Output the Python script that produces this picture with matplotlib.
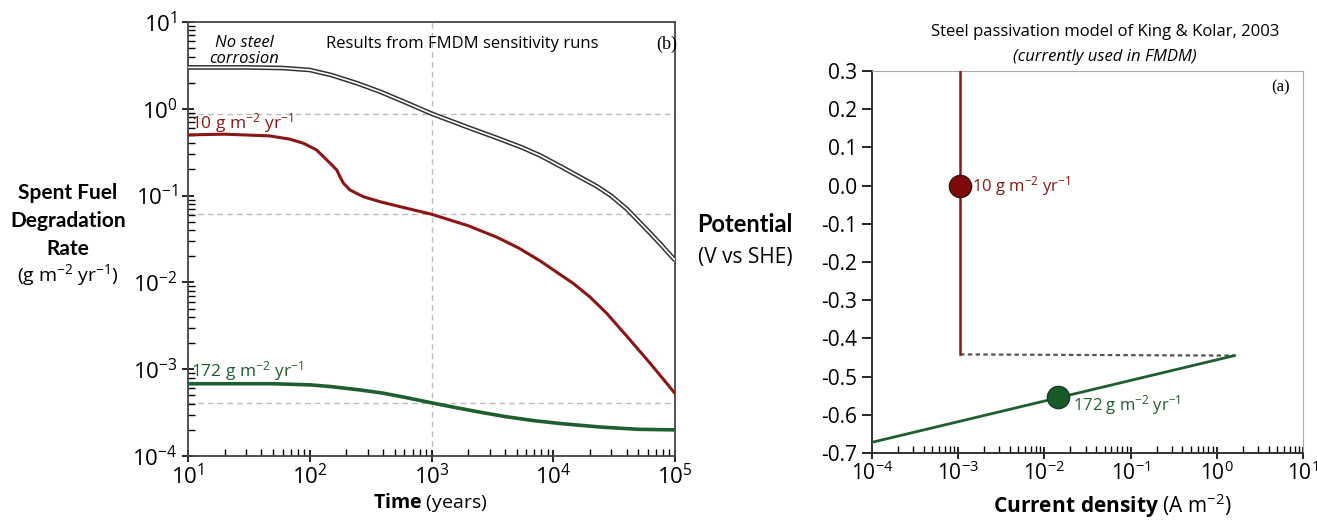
import numpy as np
import matplotlib
matplotlib.use('Agg')
import matplotlib.pyplot as plt

plt.rcParams['font.family'] = ['Open Sans', 'DejaVu Sans']
plt.rcParams['mathtext.fontset'] = 'custom'
plt.rcParams['mathtext.rm'] = 'Open Sans'
plt.rcParams['mathtext.it'] = 'Open Sans:italic'
plt.rcParams['mathtext.bf'] = 'Open Sans:bold'
plt.rcParams['mathtext.default'] = 'regular'
plt.rcParams['axes.unicode_minus'] = False

RED = '#8b1616'
GREEN = '#1e5e30'
GRID = '#bdbdbd'

# (b) degradation rate vs time, g m-2 yr-1
t_nosteel = [10, 30, 60, 100, 150, 250, 380, 600, 1000, 2000, 3470, 5500,
             7800, 12000, 23000, 30000, 40200, 62500, 80000, 100000]
r_nosteel = [3.0, 3.0, 2.95, 2.8, 2.45, 1.95, 1.57, 1.2, 0.88, 0.61, 0.46,
             0.36, 0.29, 0.21, 0.127, 0.099, 0.070, 0.037, 0.0255, 0.018]

t_10g = [10, 20, 47, 69, 89, 114, 147, 167, 177, 189, 214, 276, 378, 552,
         1000, 2000, 3470, 5200, 7800, 14650, 20000, 27500, 40200, 62500,
         80000, 100000]
r_10g = [0.50, 0.51, 0.487, 0.446, 0.40, 0.335, 0.236, 0.197, 0.165, 0.139,
         0.116, 0.097, 0.085, 0.0745, 0.061, 0.045, 0.033, 0.0249, 0.0177,
         0.0097, 0.0068, 0.0044, 0.0024, 0.00117, 7.7e-4, 5.25e-4]

t_172g = [10, 50, 100, 150, 250, 400, 600, 1000, 1600, 2500, 4000, 7000,
          12000, 25000, 50000, 100000]
r_172g = [6.8e-4, 6.8e-4, 6.6e-4, 6.3e-4, 5.8e-4, 5.3e-4, 4.75e-4, 4.1e-4,
          3.6e-4, 3.2e-4, 2.85e-4, 2.55e-4, 2.35e-4, 2.15e-4, 2.03e-4, 2.0e-4]

t_ref = 1000
rate_ref = [0.88, 0.061, 4.1e-4]

# (a) passivation model, potential (V vs SHE) vs current density (A m-2)
i_passive = [1.05e-3, 1.05e-3]
e_passive = [0.3, -0.442]
i_link = [1.05e-3, 1.6]
e_link = [-0.442, -0.445]
i_active = [1e-4, 1.6]
e_active = [-0.672, -0.445]
pt_10g = (1.05e-3, 0.0)
pt_172g = (0.0145, -0.553)

fig = plt.figure(figsize=(13.17, 5.22), dpi=100)
W, H = 1317.0, 522.0

ax1 = fig.add_axes([188 / W, 1 - 456 / H, 487 / W, 434 / H])
ax1.set_xscale('log')
ax1.set_yscale('log')
ax1.set_xlim(10, 1e5)
ax1.set_ylim(1e-4, 10)

for r in rate_ref:
    ax1.axhline(r, color=GRID, lw=1, dashes=(4, 3), zorder=1)
ax1.axvline(t_ref, color=GRID, lw=1, dashes=(4, 3), zorder=1)

ax1.plot(t_nosteel, r_nosteel, color='#333333', lw=3.4, solid_capstyle='butt',
         solid_joinstyle='round', zorder=3)
ax1.plot(t_nosteel, r_nosteel, color='white', lw=1.2, solid_capstyle='butt',
         solid_joinstyle='round', zorder=4)
ax1.plot(t_10g, r_10g, color=RED, lw=2.2, solid_joinstyle='round', zorder=3)
ax1.plot(t_172g, r_172g, color=GREEN, lw=2.6, solid_joinstyle='round', zorder=3)

ax1.text(29, 4.6, 'No steel\ncorrosion', style='italic', fontsize=12,
         ha='center', va='center', linespacing=1.0)
ax1.text(1780, 5.6, 'Results from FMDM sensitivity runs', fontsize=12,
         ha='center', va='center')
ax1.text(85000, 5.6, '(b)', family='Liberation Serif', fontsize=13,
         ha='center', va='center')
ax1.text(10.6, 0.68, '10 g m$^{-2}$ yr$^{-1}$', color=RED, fontsize=12.5,
         ha='left', va='center')
ax1.text(10.6, 9.4e-4, '172 g m$^{-2}$ yr$^{-1}$', color=GREEN, fontsize=12.5,
         ha='left', va='center')

for s in ['top', 'right', 'left', 'bottom']:
    ax1.spines[s].set_color('#444444')
    ax1.spines[s].set_linewidth(1.3)
ax1.tick_params(which='major', direction='inout', length=8, width=1.2,
                labelsize=16, top=False, right=False)
ax1.tick_params(which='minor', direction='in', length=5, width=1.0,
                top=False, right=False)
ax1.tick_params(axis='x', pad=2)

ax2 = fig.add_axes([872 / W, 1 - 453 / H, 431 / W, 382 / H])
ax2.set_xscale('log')
ax2.set_xlim(1e-4, 10)
ax2.set_ylim(-0.7, 0.3)
ax2.set_yticks(np.arange(-0.7, 0.31, 0.1))
ax2.yaxis.set_major_formatter(
    matplotlib.ticker.FuncFormatter(lambda v, p: f'{round(v, 1) + 0:.1f}'))

ax2.plot(i_link, e_link, color='#555555', lw=1.6, dashes=(2, 1.5), zorder=2)
ax2.plot(i_passive, e_passive, color=RED, lw=1.8, zorder=3)
ax2.plot(i_active, e_active, color=GREEN, lw=2.0, zorder=3)
ax2.plot(*pt_10g, 'o', ms=16, mfc='#7e0a0a', mec='#3a1010', mew=1.0, zorder=5)
ax2.plot(*pt_172g, 'o', ms=16, mfc='#1a5a2a', mec='#163a1e', mew=1.0, zorder=5)

ax2.text(1.45e-3, 0.0, '10 g m$^{-2}$ yr$^{-1}$', color=RED, fontsize=12,
         ha='left', va='center')
ax2.text(0.0214, -0.574, '172 g m$^{-2}$ yr$^{-1}$', color=GREEN, fontsize=12,
         ha='left', va='center')
ax2.text(0.947, 0.958, '(a)', transform=ax2.transAxes, family='Liberation Serif',
         fontsize=12, ha='center', va='center')

ax2.spines['top'].set_color('#aaaaaa')
ax2.spines['right'].set_color('#aaaaaa')
ax2.spines['left'].set_color('#333333')
ax2.spines['bottom'].set_color('#333333')
for s in ['left', 'bottom']:
    ax2.spines[s].set_linewidth(1.4)
ax2.tick_params(axis='y', which='major', direction='out', length=7, width=1.2,
                labelsize=15, right=False)
ax2.tick_params(axis='x', which='major', direction='inout', length=8, width=1.2,
                labelsize=15, top=False, pad=2)
ax2.tick_params(axis='x', which='minor', direction='in', length=5, width=1.0,
                top=False)

fig.text(1105 / W, 1 - 32 / H, 'Steel passivation model of King & Kolar, 2003',
         fontsize=12, ha='center', va='center')
fig.text(1105 / W, 1 - 57 / H, '(currently used in FMDM)', style='italic',
         fontsize=12, ha='center', va='center')

# axis titles
for txt, y in [('Spent Fuel', 193), ('Degradation', 221), ('Rate', 249)]:
    fig.text(68 / W, 1 - y / H, txt, family='Lato', weight='bold', fontsize=15,
             ha='center', va='center')
fig.text(68 / W, 1 - 275 / H, '(g m$^{-2}$ yr$^{-1}$)', fontsize=14,
         ha='center', va='center')
fig.text(745 / W, 1 - 224 / H, 'Potential', family='Lato', weight='bold',
         fontsize=17, ha='center', va='center')
fig.text(745 / W, 1 - 258 / H, '(V vs SHE)', fontsize=15, ha='center', va='center')
fig.text(430 / W, 1 - 503 / H, r'$\mathbf{Time}$ (years)', fontsize=14,
         ha='center', va='center')
fig.text(1112 / W, 1 - 506 / H, r'$\mathbf{Current\ density}$ (A m$^{-2}$)',
         fontsize=15, ha='center', va='center')

fig.savefig('out.png', dpi=100)
